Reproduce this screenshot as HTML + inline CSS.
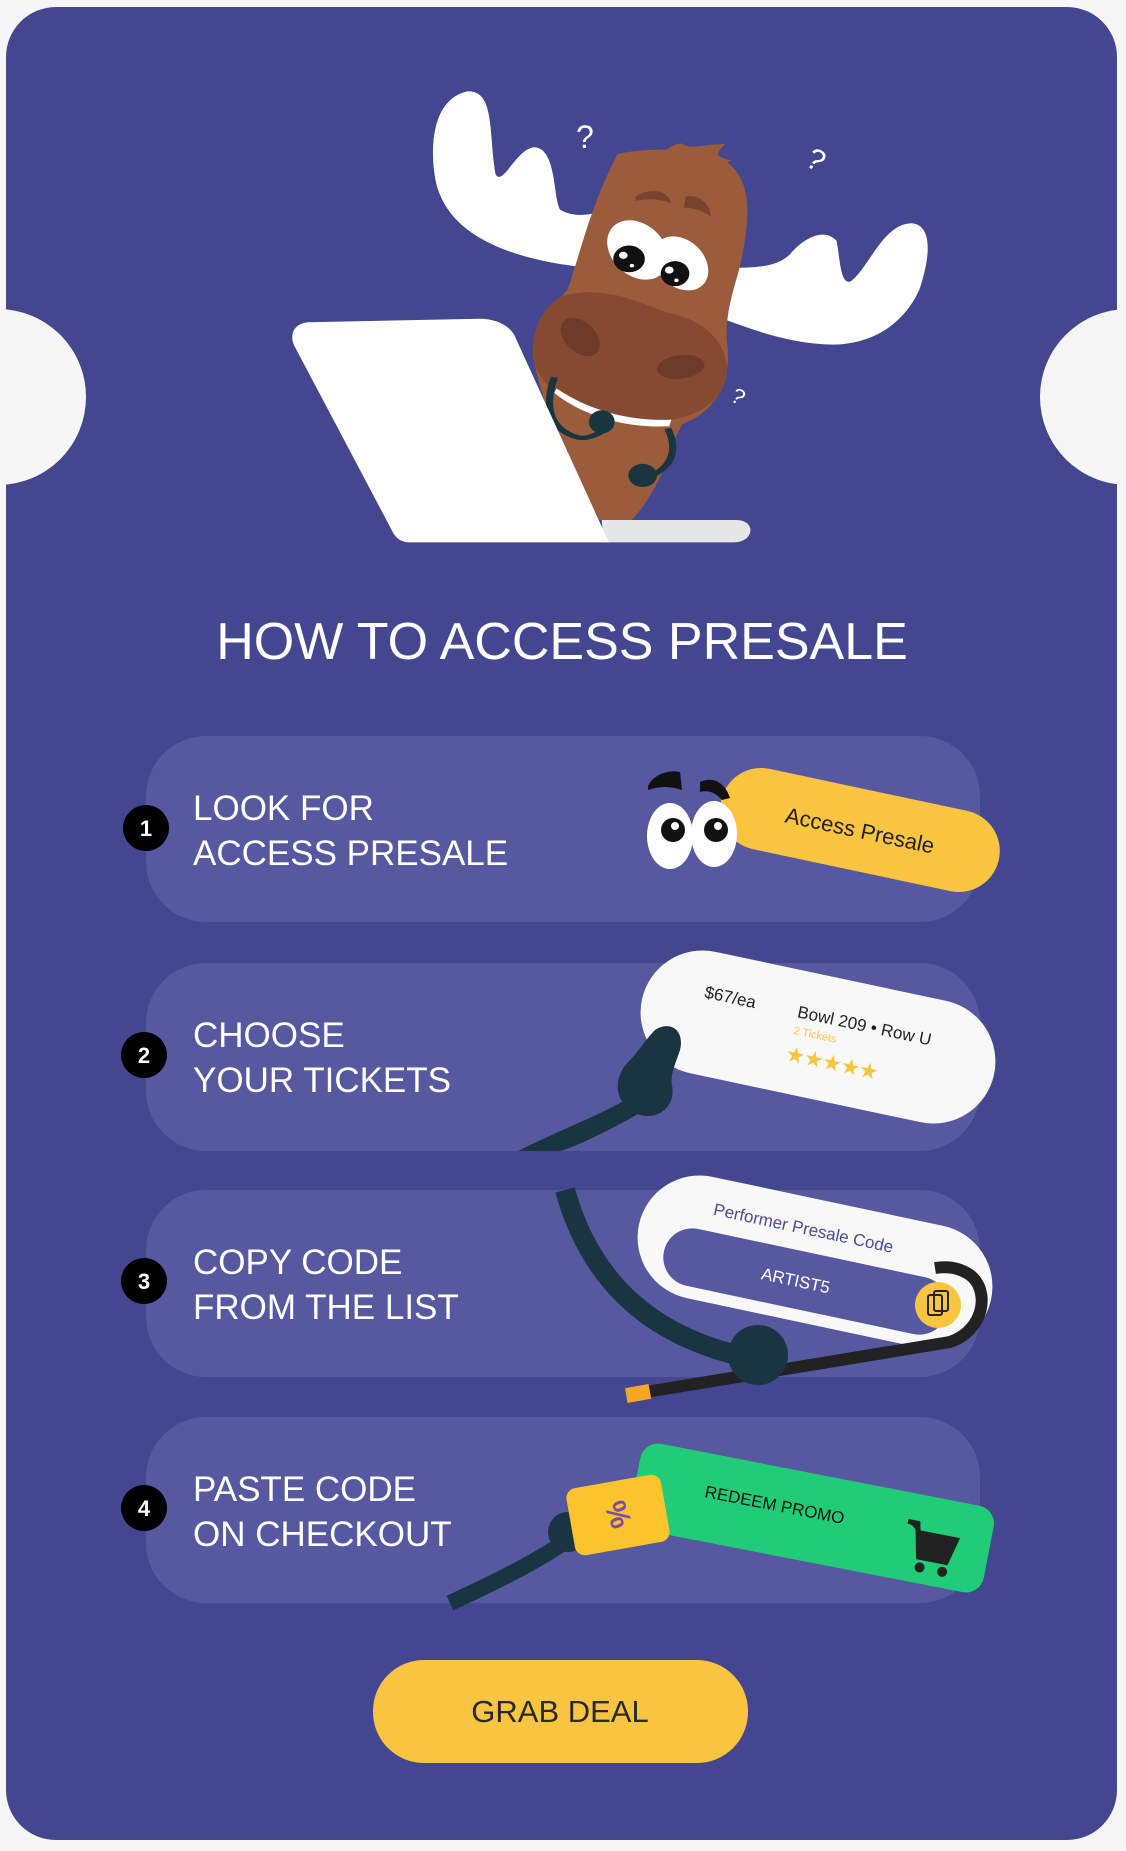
<!DOCTYPE html>
<html><head><meta charset="utf-8"><style>
html,body{margin:0;padding:0;background:#f6f6f6;}
body{width:1126px;height:1846px;overflow:hidden;font-family:"Liberation Sans",sans-serif;}
</style></head><body>
<svg width="1126" height="1846" viewBox="0 0 1126 1846" xmlns="http://www.w3.org/2000/svg" font-family="Liberation Sans, sans-serif">
<rect x="0" y="0" width="1126" height="1846" fill="#f6f6f6"/>
<rect x="6" y="7" width="1111" height="1833" rx="50" fill="#434790"/>
<circle cx="-2" cy="397" r="88" fill="#f6f6f6"/>
<circle cx="1128" cy="397" r="88" fill="#f6f6f6"/>

<!-- Moose illustration (zoom coords) -->
<g transform="scale(0.7181,0.4464)">
  <path d="M820,600 C700,580 620,520 606,400 C596,300 610,220 650,205 C690,200 680,300 690,390 C700,420 720,330 745,330 C775,335 770,440 780,470 C800,490 830,480 840,470 Z" fill="#fff"/>
  <path d="M1010,600 C1050,600 1080,600 1100,570 C1120,530 1150,510 1165,540 C1170,580 1170,640 1185,630 C1210,600 1230,500 1270,500 C1300,505 1295,580 1280,650 C1260,720 1220,770 1160,772 C1100,770 1050,740 1000,710 Z" fill="#fff"/>
  <path d="M860,345 C900,330 980,330 1010,360 C1045,400 1045,470 1035,560 C1030,620 1010,680 1012,760 C1020,850 1000,920 950,950 L935,1000 C925,1060 905,1120 880,1165 L835,1165 C790,1030 760,930 745,820 C738,750 760,700 790,650 C810,560 820,470 860,345 Z" fill="#9b5c3c"/>
  <path d="M920,350 C930,330 940,320 950,322 C960,335 975,325 1010,322 C1000,340 990,350 1020,360 C1000,365 990,380 985,395 Z" fill="#9b5c3c"/>
  <path d="M790,660 C850,640 890,680 930,700 C990,720 1015,780 1012,840 C1005,910 960,945 900,945 C820,940 750,880 742,800 C740,730 760,675 790,660 Z" fill="#864a32"/>
  <ellipse cx="808" cy="755" rx="24" ry="45" transform="rotate(-20 808 755)" fill="#6e3b28"/>
  <ellipse cx="948" cy="822" rx="34" ry="26" transform="rotate(-20 948 822)" fill="#6e3b28"/>
  <path d="M775,870 C820,920 880,945 935,940 L932,955 C870,960 810,930 772,880 Z" fill="#fff"/>
  <path d="M885,440 C905,420 930,425 935,455 C915,445 900,445 885,450 Z" fill="#7a4330"/>
  <path d="M955,440 C975,435 990,460 990,485 C975,470 965,465 952,465 Z" fill="#7a4330"/>
  <ellipse cx="888" cy="560" rx="40" ry="68" transform="rotate(-15 888 560)" fill="#fff"/>
  <ellipse cx="948" cy="590" rx="36" ry="62" transform="rotate(-15 948 590)" fill="#fff"/>
  <ellipse cx="876" cy="580" rx="22" ry="30" fill="#111"/>
  <ellipse cx="940" cy="613" rx="20" ry="28" fill="#111"/>
  <ellipse cx="868" cy="572" rx="6" ry="8" fill="#fff"/><ellipse cx="880" cy="595" rx="3" ry="4" fill="#fff"/>
  <ellipse cx="932" cy="605" rx="6" ry="8" fill="#fff"/><ellipse cx="942" cy="628" rx="3" ry="4" fill="#fff"/>
  <path d="M772,845 C760,900 760,960 805,980 C820,985 835,970 845,960" stroke="#183540" stroke-width="10" fill="none"/>
  <ellipse cx="838" cy="945" rx="18" ry="26" fill="#183540"/>
  <path d="M930,960 C945,1010 935,1050 900,1070" stroke="#183540" stroke-width="10" fill="none"/>
  <ellipse cx="895" cy="1065" rx="20" ry="26" fill="#183540"/>
  <path d="M838,1165 L1025,1165 C1045,1165 1050,1190 1040,1205 C1035,1212 1030,1215 1020,1215 L840,1215 Z" fill="#e6e6e6"/>
  <path d="M430,722 L668,714 C690,714 708,728 716,750 L848,1215 L572,1215 C558,1215 552,1205 548,1195 L410,775 C402,748 410,724 430,722 Z" fill="#fff"/>
</g>
<text x="576" y="148" font-size="32" fill="#fff">?</text>
<text x="808" y="172" font-size="30" fill="#fff" transform="rotate(30 820 160)">?</text>
<text x="732" y="405" font-size="22" fill="#fff" transform="rotate(30 740 397)">?</text>

<!-- Title -->
<text x="562" y="659" text-anchor="middle" font-size="52" fill="#fff">HOW TO ACCESS PRESALE</text>

<!-- Rows -->
<rect x="146" y="736" width="834" height="186" rx="60" fill="#5658a0"/>
<rect x="146" y="963" width="834" height="188" rx="60" fill="#5658a0"/>
<rect x="146" y="1190" width="834" height="187" rx="60" fill="#5658a0"/>
<rect x="146" y="1417" width="834" height="186" rx="60" fill="#5658a0"/>

<g fill="#000"><circle cx="146" cy="828" r="23"/><circle cx="144" cy="1055" r="23"/><circle cx="144" cy="1281" r="23"/><circle cx="144" cy="1508" r="23"/></g>
<g fill="#fff" font-size="22" text-anchor="middle" font-weight="bold">
<text x="146" y="836">1</text><text x="144" y="1063">2</text><text x="144" y="1289">3</text><text x="144" y="1516">4</text></g>

<g fill="#fff" font-size="35">
<text x="193" y="820">LOOK FOR</text><text x="193" y="865">ACCESS PRESALE</text>
<text x="193" y="1047">CHOOSE</text><text x="193" y="1092">YOUR TICKETS</text>
<text x="193" y="1274">COPY CODE</text><text x="193" y="1319">FROM THE LIST</text>
<text x="193" y="1501">PASTE CODE</text><text x="193" y="1546">ON CHECKOUT</text>
</g>

<!-- Row1 illustration -->
<g transform="translate(860,830) rotate(12)">
  <rect x="-142" y="-41" width="284" height="82" rx="41" fill="#f9c440"/>
  <text x="0" y="8" text-anchor="middle" font-size="22" fill="#222">Access Presale</text>
</g>
<ellipse cx="670" cy="836" rx="23" ry="33" fill="#fff"/>
<ellipse cx="714" cy="834" rx="23" ry="33" fill="#fff"/>
<circle cx="673" cy="830" r="12" fill="#111"/><circle cx="716" cy="830" r="12" fill="#111"/>
<circle cx="675" cy="826" r="4" fill="#fff"/><circle cx="718" cy="826" r="4" fill="#fff"/>
<path d="M648,786 C655,772 672,770 680,772 L682,790 C670,786 660,786 648,790 Z" fill="#111"/>
<path d="M700,782 C712,776 725,782 730,798 L722,800 C715,792 708,790 700,792 Z" fill="#111"/>

<!-- Row2 illustration -->
<g transform="translate(818,1037) rotate(12)">
  <rect x="-180" y="-62" width="360" height="124" rx="62" fill="#f8f8f8"/>
  <text x="-120" y="-15" font-size="17" fill="#222">$67/ea</text>
  <text x="-25" y="-15" font-size="17" fill="#222">Bowl 209 • Row U</text>
  <text x="-25" y="2" font-size="11" fill="#f9c440">2 Tickets</text>
  <text x="-28" y="30" font-size="22" fill="#f9c440" letter-spacing="-1">★★★★★</text>
</g>
<path d="M518,1151 C560,1130 600,1115 625,1100 L645,1110 C610,1130 580,1145 560,1151 Z" fill="#183540"/>
<path d="M655,1030 C670,1020 685,1030 680,1050 C675,1065 670,1075 672,1085 C676,1105 660,1120 640,1115 C615,1105 610,1080 630,1060 C640,1050 645,1040 655,1030 Z" fill="#183540"/>

<!-- Row3 illustration -->
<path d="M565,1190 C590,1280 650,1340 760,1360" stroke="#183540" stroke-width="20" fill="none"/>
<g transform="translate(815,1262) rotate(12)">
  <rect x="-180" y="-62" width="360" height="124" rx="62" fill="#f8f8f8"/>
  <text x="-110" y="-25" font-size="17" fill="#4a4c96">Performer Presale Code</text>
  <rect x="-150" y="-8" width="290" height="58" rx="29" fill="#5658a0"/>
  <text x="-15" y="28" text-anchor="middle" font-size="17" fill="#fff">ARTIST5</text>
</g>
<path d="M640,1393 L950,1342 C985,1330 990,1290 970,1275 C960,1268 948,1266 935,1268" stroke="#222" stroke-width="12" fill="none"/>
<rect x="626" y="1386" width="24" height="15" fill="#f5a623" transform="rotate(-10 638 1393)"/>
<circle cx="758" cy="1355" r="30" fill="#183540"/>
<circle cx="938" cy="1305" r="23" fill="#f9c440"/>
<rect x="928" y="1295" width="14" height="20" rx="2" fill="none" stroke="#222" stroke-width="2"/>
<rect x="934" y="1291" width="14" height="20" rx="2" fill="none" stroke="#222" stroke-width="2"/>

<!-- Row4 illustration -->
<g transform="translate(812,1518) rotate(11)">
  <rect x="-180" y="-44" width="360" height="88" rx="18" fill="#21cc77"/>
  <text x="-110" y="0" font-size="17" fill="#111">REDEEM PROMO</text>
  <path d="M95,-15 L105,-15 L112,18 L140,18 L146,-6 L108,-6" stroke="#222" stroke-width="5" fill="#222"/>
  <circle cx="115" cy="28" r="5" fill="#222"/><circle cx="138" cy="28" r="5" fill="#222"/>
</g>
<path d="M450,1603 C500,1580 540,1560 575,1535" stroke="#183540" stroke-width="16" fill="none"/>
<circle cx="568" cy="1532" r="20" fill="#183540"/>
<g transform="translate(618,1515) rotate(-10)">
  <rect x="-48" y="-34" width="96" height="68" rx="10" fill="#fbc32c"/>
  <text x="-2" y="8" text-anchor="middle" font-size="30" font-weight="bold" fill="#7b4ea3" transform="rotate(80 -2 0)">%</text>
</g>

<!-- Button -->
<rect x="373" y="1660" width="375" height="103" rx="51" fill="#f9c440"/>
<text x="560" y="1722" text-anchor="middle" font-size="31" fill="#2a2a2a">GRAB DEAL</text>
</svg>
</body></html>
